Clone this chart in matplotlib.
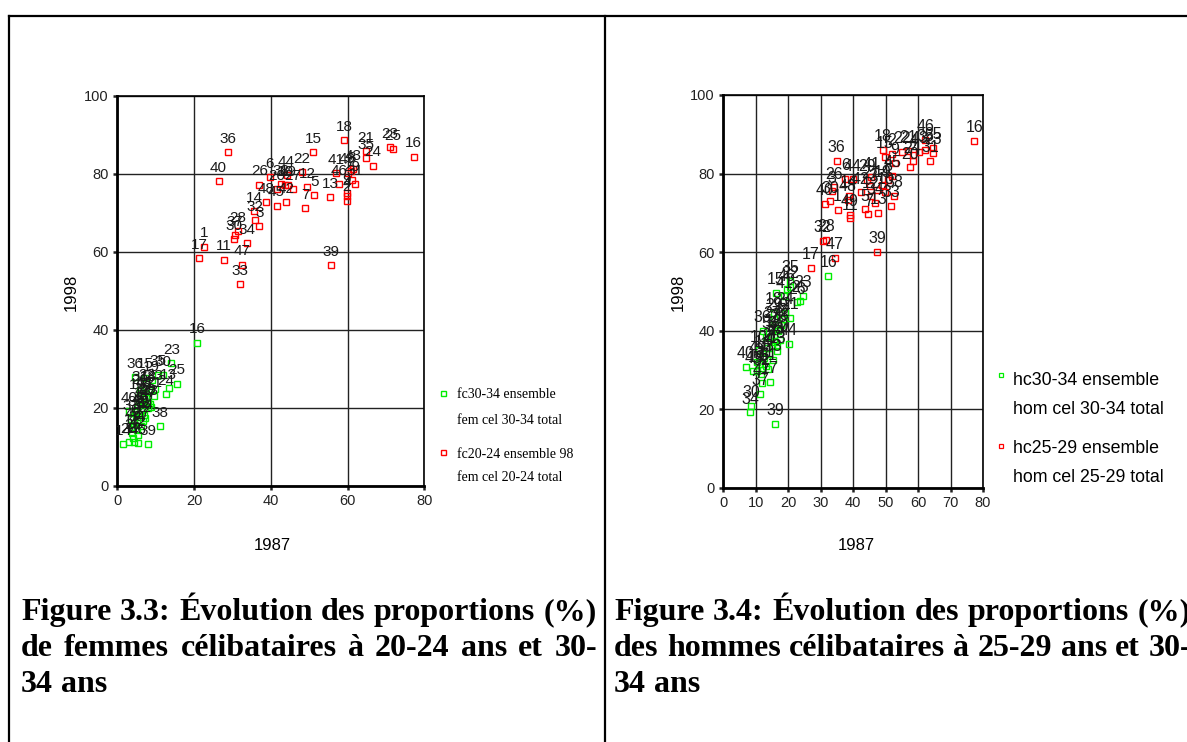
import matplotlib
matplotlib.use("Agg")
import matplotlib.pyplot as plt
from matplotlib.lines import Line2D

W, H = 1187, 742

# ---- data: (x = 1987, y = 1998) ----
lab = list(range(1, 50))

fem_old_x = [5.5, 6.3, 7.6, 5.0, 6.0, 4.4, 8.7, 6.5, 7.0, 5.3, 3.8, 6.8, 13.4, 1.6, 7.2, 20.8,
             4.3, 8.2, 9.0, 5.8, 9.5, 7.6, 14.1, 12.7, 15.6, 4.0, 6.3, 3.1, 7.9, 12.0, 6.0, 4.8,
             8.5, 5.2, 10.6, 4.6, 3.6, 11.2, 8.0, 3.0, 6.6, 5.5, 9.8, 7.3, 4.1, 5.3, 8.0, 6.9, 5.9]
fem_old_y = [20.5, 21.5, 22.5, 19.0, 17.5, 16.0, 20.3, 19.5, 18.2, 22.5, 13.5, 16.5, 25.1, 10.6,
             27.7, 36.7, 11.2, 24.5, 27.0, 23.8, 23.0, 25.0, 31.4, 23.5, 26.2, 12.2, 15.2, 11.2,
             21.2, 28.3, 24.5, 18.2, 21.0, 14.3, 28.5, 27.8, 17.0, 15.2, 10.6, 19.2, 20.8, 13.0,
             24.8, 17.3, 15.0, 10.9, 19.8, 23.0, 18.5]

fem_young_x = [22.7, 59.8, 37.0, 59.9, 51.3, 39.7, 48.9, 61.0, 59.8, 43.8, 27.7, 49.5, 55.4, 35.6,
               51.0, 77.2, 21.3, 59.2, 44.6, 41.5, 64.7, 48.1, 71.1, 66.6, 71.8, 37.0, 45.7, 31.4,
               61.2, 30.4, 62.0, 35.8, 31.9, 33.7, 64.7, 28.8, 30.7, 42.7, 55.8, 26.4, 57.0, 43.9,
               61.5, 44.1, 41.5, 57.7, 32.5, 38.7, 60.0]
fem_young_y = [61.3, 73.1, 66.6, 74.3, 74.5, 79.2, 71.2, 80.6, 75.1, 77.0, 58.0, 76.6, 74.1, 70.5,
               85.6, 84.4, 58.3, 88.6, 77.1, 76.0, 85.7, 80.5, 86.8, 82.1, 86.4, 77.2, 76.1, 65.3,
               78.3, 63.2, 77.4, 68.2, 51.6, 62.2, 84.0, 85.5, 64.3, 77.3, 56.6, 78.1, 80.1, 72.8,
               81.1, 79.7, 71.8, 77.4, 56.7, 72.7, 80.3]

hom_old_x = [12.5, 13.5, 11.0, 14.0, 13.0, 12.0, 15.0, 14.8, 18.3, 11.0, 13.2, 15.5, 16.6, 12.2,
             16.2, 32.3, 14.4, 15.6, 10.3, 17.5, 20.5, 20.5, 24.6, 19.0, 23.6, 22.6, 15.0, 16.8,
             15.6, 8.5, 13.8, 11.6, 15.4, 8.2, 20.5, 12.1, 11.3, 17.5, 15.9, 7.0, 18.8, 17.8,
             16.0, 20.2, 9.3, 19.5, 11.8, 16.5, 10.5]
hom_old_y = [33.0, 35.5, 31.5, 34.0, 38.5, 30.0, 36.0, 38.5, 43.0, 35.0, 31.0, 39.0, 34.7, 33.5,
             49.7, 53.9, 27.0, 44.5, 29.8, 37.7, 43.3, 51.2, 48.9, 44.5, 47.6, 47.2, 41.0, 40.0,
             43.0, 20.8, 30.2, 29.0, 32.5, 19.2, 52.7, 40.0, 23.9, 40.5, 16.3, 30.8, 48.7, 41.5,
             37.0, 36.6, 29.6, 50.5, 26.6, 36.0, 32.0]

hom_young_x = [35.2, 52.0, 33.4, 58.5, 43.6, 37.6, 44.7, 50.7, 52.8, 49.9, 39.0, 45.5, 47.7, 38.6,
               49.8, 77.3, 27.0, 49.1, 49.0, 57.5, 56.8, 55.0, 64.7, 58.3, 64.5, 34.0, 45.2, 31.6,
               44.2, 32.9, 63.7, 30.6, 51.7, 46.7, 62.2, 34.9, 47.3, 52.7, 47.4, 31.3, 45.6, 42.3,
               60.4, 39.9, 52.0, 62.2, 34.3, 38.3, 39.0]
hom_young_y = [70.8, 85.0, 75.5, 84.8, 70.9, 78.6, 69.6, 78.4, 82.8, 75.2, 68.6, 74.2, 70.0, 74.3,
               84.2, 88.3, 55.9, 86.0, 77.0, 81.6, 85.7, 85.6, 85.3, 83.1, 86.6, 76.5, 76.7, 63.2,
               78.4, 72.9, 83.3, 62.9, 71.8, 72.5, 86.0, 83.3, 75.9, 74.3, 60.1, 72.2, 79.0, 75.2,
               85.6, 78.5, 79.5, 88.5, 58.6, 73.3, 69.5]

fem_legend = ["fc30-34 ensemble", "fem cel 30-34 total", "fc20-24 ensemble 98", "fem cel 20-24 total"]
hom_legend = ["hc30-34 ensemble", "hom cel 30-34 total", "hc25-29 ensemble", "hom cel 25-29 total"]

title_left = ["Figure 3.3: Évolution des proportions (%)",
              "de femmes célibataires à 20-24 ans et 30-",
              "34 ans"]
title_right = ["Figure 3.4: Évolution des proportions (%)",
               "des hommes célibataires à 25-29 ans et 30-",
               "34 ans"]

GREEN = "#00ee00"
RED = "#ff0000"
SANS = "Liberation Sans"
SERIF = "Liberation Serif"


def fx(px):
    return px / W


def fy(py):
    return 1 - py / H


fig = plt.figure(figsize=(W / 100, H / 100), dpi=100)


def scatter_panel(rect, xstep, series, lsize):
    ax = fig.add_axes(rect)
    ax.set_xlim(0, 80)
    ax.set_ylim(0, 100)
    ax.set_xticks(range(0, 81, xstep))
    ax.set_yticks(range(0, 101, 20))
    ax.grid(True, color="#222222", lw=1.0)
    ax.set_axisbelow(True)
    for s in ax.spines.values():
        s.set_color("black")
        s.set_linewidth(1.2)
    ax.spines["left"].set_linewidth(2)
    ax.spines["bottom"].set_linewidth(2)
    ax.tick_params(length=3, width=1.8, direction="out", labelsize=10.5, pad=3,
                   colors="#222222")
    for t in ax.get_xticklabels() + ax.get_yticklabels():
        t.set_family(SANS)
    for xs, ys, col in series:
        ax.plot(xs, ys, ls="none", marker="s", ms=4.5, mfc="none", mec=col, mew=1.0,
                clip_on=False, zorder=3)
        for l, x, y in zip(lab, xs, ys):
            ax.annotate(str(l), (x, y), xytext=(0, 9.5), textcoords="offset points",
                        ha="center", va="center", fontsize=lsize, family=SANS,
                        color="#1a1a1a", zorder=4, annotation_clip=False)
    return ax


scatter_panel([fx(117.3), fy(485.7), (424.3 - 117.3) / W, 390 / H], 20,
              [(fem_old_x, fem_old_y, GREEN), (fem_young_x, fem_young_y, RED)], 11)
scatter_panel([fx(723.3), fy(487.7), (983 - 723.3) / W, 392.7 / H], 10,
              [(hom_old_x, hom_old_y, GREEN), (hom_young_x, hom_young_y, RED)], 11.5)

# axis titles
fig.text(fx(71), fy(292), "1998", rotation=90, ha="center", va="center", fontsize=12, family=SANS)
fig.text(fx(272), fy(545), "1987", ha="center", va="center", fontsize=12, family=SANS)
fig.text(fx(678), fy(292), "1998", rotation=90, ha="center", va="center", fontsize=12, family=SANS)
fig.text(fx(856), fy(546), "1987", ha="center", va="center", fontsize=12, family=SANS)

# legends
for txt, yy in zip(fem_legend, [395, 420, 454, 477]):
    fig.text(fx(456.7), fy(yy), txt, ha="left", va="center", fontsize=10, family=SERIF)
fig.add_artist(Line2D([fx(443)], [fy(392.5)], marker="s", ms=3.6, mfc="none", mec=GREEN,
                      mew=1, transform=fig.transFigure))
fig.add_artist(Line2D([fx(443)], [fy(451.5)], marker="s", ms=3.6, mfc="none", mec=RED,
                      mew=1, transform=fig.transFigure))

for txt, yy in zip(hom_legend, [380, 409, 449, 477]):
    fig.text(fx(1012.7), fy(yy), txt, ha="left", va="center", fontsize=12.8, family=SANS)
fig.add_artist(Line2D([fx(1001)], [fy(375)], marker="s", ms=3, mfc="none", mec=GREEN,
                      mew=0.9, transform=fig.transFigure))
fig.add_artist(Line2D([fx(1001)], [fy(446)], marker="s", ms=3, mfc="none", mec=RED,
                      mew=0.9, transform=fig.transFigure))

# table frame
for xs, ys in [([9, W], [16, 16]), ([9, 9], [16, H]), ([605, 605], [16, H])]:
    fig.add_artist(Line2D([fx(v) for v in xs], [fy(v) for v in ys], color="black", lw=1.6,
                          transform=fig.transFigure))

# justified captions
renderer = fig.canvas.get_renderer()


def caption(lines, x0, x1, y0, step):
    for k, line in enumerate(lines):
        words = line.split(" ")
        ts = [fig.text(0, fy(y0 + k * step), w, fontsize=23, fontweight="bold", family=SERIF,
                       va="baseline", ha="left") for w in words]
        ws = [t.get_window_extent(renderer).width for t in ts]
        if k < len(lines) - 1 and len(words) > 1:
            gap = (x1 - x0 - sum(ws)) / (len(words) - 1)
        else:
            gap = 8
        x = x0
        for t, w in zip(ts, ws):
            t.set_x(fx(x))
            x += w + gap


caption(title_left, 21, 597, 620, 36)
caption(title_right, 614, 1191, 620, 36)

fig.savefig("out.png", dpi=100)
